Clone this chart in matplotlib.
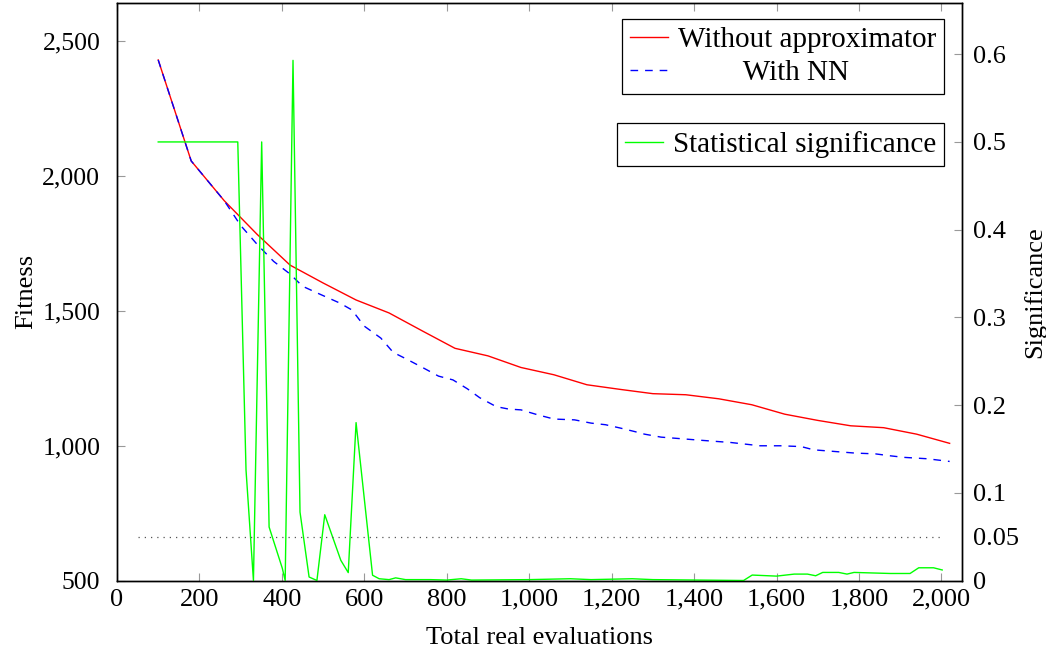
import numpy as np
import matplotlib
matplotlib.use("Agg")
import matplotlib.pyplot as plt
from matplotlib.ticker import FuncFormatter

# fitness without approximator (every 80 evaluations)
red_x = [100, 180, 260, 340, 420, 500, 580, 660, 740, 820, 900, 980, 1060,
         1140, 1220, 1300, 1380, 1460, 1540, 1620, 1700, 1780, 1860, 1940, 2020]
red_y = [2428, 2054, 1907, 1782, 1668, 1602, 1539, 1491, 1425, 1360, 1332, 1289, 1262,
         1225, 1208, 1192, 1188, 1173, 1151, 1116, 1093, 1073, 1066, 1042, 1008]

# fitness with NN
blue_x = [100, 180, 260, 300, 340, 380, 420, 450, 490, 540, 570, 600, 640, 670, 700,
          740, 780, 815, 850, 880, 920, 950, 980, 1020, 1060, 1110, 1150, 1185, 1220,
          1255, 1280, 1320, 1370, 1420, 1490, 1560, 1610, 1660, 1690, 1740, 1790,
          1840, 1875, 1910, 1965, 2020]
blue_y = [2428, 2054, 1907, 1815, 1745, 1682, 1635, 1590, 1562, 1528, 1502, 1442, 1398,
          1345, 1322, 1290, 1257, 1243, 1210, 1177, 1144, 1135, 1132, 1114, 1098, 1095,
          1083, 1077, 1065, 1052, 1042, 1031, 1025, 1019, 1011, 999, 999, 996, 984,
          978, 972, 969, 962, 956, 951, 941]

# statistical significance
sig_x = [100, 293, 313, 331, 351, 369, 401, 408, 427, 444, 466, 485, 504, 543, 561,
         580, 620, 636, 660, 676, 700, 760, 800, 835, 860, 1000, 1100, 1150, 1250,
         1300, 1520, 1541, 1600, 1643, 1675, 1695, 1712, 1751, 1771, 1788, 1876,
         1924, 1945, 1981, 2002]
sig_y = [0.5, 0.5, 0.126, 0.0, 0.5, 0.061, 0.014, 0.0, 0.593, 0.078, 0.004, 0.0,
         0.075, 0.023, 0.009, 0.18, 0.006, 0.002, 0.001, 0.003, 0.001, 0.001, 0.0005,
         0.002, 0.0005, 0.001, 0.002, 0.001, 0.002, 0.001, 0.0, 0.0062, 0.005, 0.0073,
         0.0073, 0.0054, 0.0092, 0.0092, 0.0073, 0.0092, 0.008, 0.008, 0.0145, 0.0145,
         0.012]

threshold = 0.05

plt.rcParams['font.family'] = ['Liberation Serif', 'DejaVu Serif']
plt.rcParams['font.size'] = 19

W, H = 1046, 655
fig = plt.figure(figsize=(W / 100, H / 100), dpi=100)
ax = fig.add_axes([117 / W, 1 - 580.5 / H, (962 - 117) / W, (580.5 - 3) / H])
ax2 = ax.twinx()

ax.plot(red_x, red_y, color='#ff0000', lw=1.0, label='Without approximator')
ax.plot(blue_x, blue_y, color='#0000ff', lw=1.0, dashes=(5.5, 5), label='With NN')
ax2.plot(sig_x, sig_y, color='#00ff00', lw=1.0, label='Statistical significance')
ax2.plot([50, 2000], [threshold, threshold], color='#555555', lw=0.9,
         linestyle=(0, (1, 4)))

ax.set_xlim(0, 2050)
ax.set_ylim(500, 2639)
ax2.set_ylim(0, 0.6584)

ax.set_xticks(np.arange(0, 2001, 200))
ax.set_yticks([500, 1000, 1500, 2000, 2500])
ax.xaxis.set_major_formatter(FuncFormatter(lambda v, p: f"{int(v):,}"))
ax.yaxis.set_major_formatter(FuncFormatter(lambda v, p: f"{int(v):,}"))

sig_ticks = [0, 0.05, 0.1, 0.2, 0.3, 0.4, 0.5, 0.6]
ax2.set_yticks(sig_ticks)
ax2.set_yticklabels(['0', '0.05', '0.1', '0.2', '0.3', '0.4', '0.5', '0.6'])

tick_col = '#999999'
ax.tick_params(axis='x', direction='in', top=True, bottom=True, length=6,
               color=tick_col, pad=6, labelsize=19)
ax.tick_params(axis='y', direction='in', left=True, right=False, length=6,
               color=tick_col, pad=12, labelsize=18.5)
ax2.tick_params(axis='y', direction='in', right=True, length=6,
                color=tick_col, pad=8, labelsize=19)
ax2.yaxis.get_major_ticks()[1].tick2line.set_visible(False)

for a in (ax, ax2):
    for s in a.spines.values():
        s.set_linewidth(1.0)
        s.set_color('black')

ax.set_xlabel('Total real evaluations', fontsize=19, labelpad=12)
ax.set_ylabel('Fitness', fontsize=19, labelpad=4)
ax2.set_ylabel('Significance', fontsize=19, labelpad=3)

leg_kw = dict(loc='upper right', bbox_transform=fig.transFigure, borderaxespad=0,
              fancybox=False, edgecolor='black', framealpha=1, fontsize=21,
              handlelength=1.3, handletextpad=0.35, borderpad=0.27)

h1, l1 = ax.get_legend_handles_labels()
l1[1] = '         With NN'
leg1 = ax2.legend(h1, l1, bbox_to_anchor=(944 / W, 1 - 19 / H),
                  labelspacing=0.22, **leg_kw)
leg1.get_frame().set_linewidth(0.9)
ax2.add_artist(leg1)

h2, l2 = ax2.get_legend_handles_labels()
leg2 = ax2.legend(h2[:1], l2[:1], bbox_to_anchor=(944 / W, 1 - 123 / H), **leg_kw)
leg2.get_frame().set_linewidth(0.9)

fig.savefig('out.png', dpi=100)
